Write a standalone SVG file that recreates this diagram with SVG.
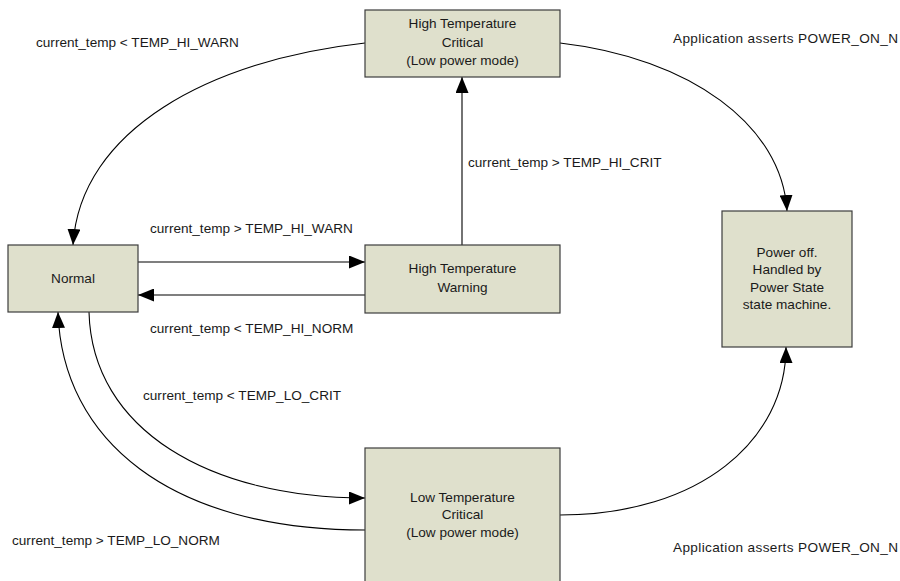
<svg xmlns="http://www.w3.org/2000/svg" width="900" height="581" viewBox="0 0 900 581">
<style>
.node rect{fill:#dfe0cc;stroke:#3c3c3c;stroke-width:1.2}
text{font-family:"Liberation Sans",Arial,sans-serif;font-size:13.6px;fill:#1a1a1a}
.c{text-anchor:middle}
.edge{fill:none;stroke:#000;stroke-width:1.1;marker-end:url(#ah)}
</style>
<defs>
<marker id="ah" viewBox="0 0 16 13" refX="16" refY="6.5" markerWidth="16" markerHeight="13" markerUnits="userSpaceOnUse" orient="auto">
<path d="M0,0 L16,6.5 L0,13 Z" fill="#000"/>
</marker>
</defs>
<rect width="900" height="581" fill="#fff"/>
<g id="connectors">
<path class="edge" d="M365,43 C210,60 80,130 73,245"/>
<path class="edge" d="M560,43 C690,58 782,125 787,211"/>
<path class="edge" d="M462,245 L462,77"/>
<path class="edge" d="M138,262 L365,262"/>
<path class="edge" d="M365,295 L138,295"/>
<path class="edge" d="M89,312 C92,430 210,498 365,498"/>
<path class="edge" d="M365,530 C170,530 62,440 58,312"/>
<path class="edge" d="M560,515 C700,515 786,440 786,347"/>
</g>
<g id="labels">
<text x="36" y="47">current_temp &lt; TEMP_HI_WARN</text>
<text x="673" y="43" textLength="225" lengthAdjust="spacing">Application asserts POWER_ON_N</text>
<text x="468" y="167">current_temp &gt; TEMP_HI_CRIT</text>
<text x="150" y="233">current_temp &gt; TEMP_HI_WARN</text>
<text x="150" y="333">current_temp &lt; TEMP_HI_NORM</text>
<text x="143" y="400">current_temp &lt; TEMP_LO_CRIT</text>
<text x="12" y="545">current_temp &gt; TEMP_LO_NORM</text>
<text x="673" y="552" textLength="225" lengthAdjust="spacing">Application asserts POWER_ON_N</text>
</g>
<g id="hi-crit" class="node">
<rect x="365" y="10" width="195" height="67"/>
<text class="c" x="462.5" y="28">High Temperature</text>
<text class="c" x="462.5" y="47">Critical</text>
<text class="c" x="462.5" y="65">(Low power mode)</text>
</g>
<g id="normal" class="node">
<rect x="8" y="245" width="130" height="67"/>
<text class="c" x="73" y="283">Normal</text>
</g>
<g id="hi-warn" class="node">
<rect x="365" y="245" width="195" height="68"/>
<text class="c" x="462.5" y="273">High Temperature</text>
<text class="c" x="462.5" y="292">Warning</text>
</g>
<g id="power-off" class="node">
<rect x="722" y="211" width="130" height="136"/>
<text class="c" x="787" y="257">Power off.</text>
<text class="c" x="787" y="274">Handled by</text>
<text class="c" x="787" y="292">Power State</text>
<text class="c" x="787" y="309">state machine.</text>
</g>
<g id="lo-crit" class="node">
<rect x="365" y="448" width="195" height="145"/>
<text class="c" x="462.5" y="502">Low Temperature</text>
<text class="c" x="462.5" y="519">Critical</text>
<text class="c" x="462.5" y="537">(Low power mode)</text>
</g>
</svg>
